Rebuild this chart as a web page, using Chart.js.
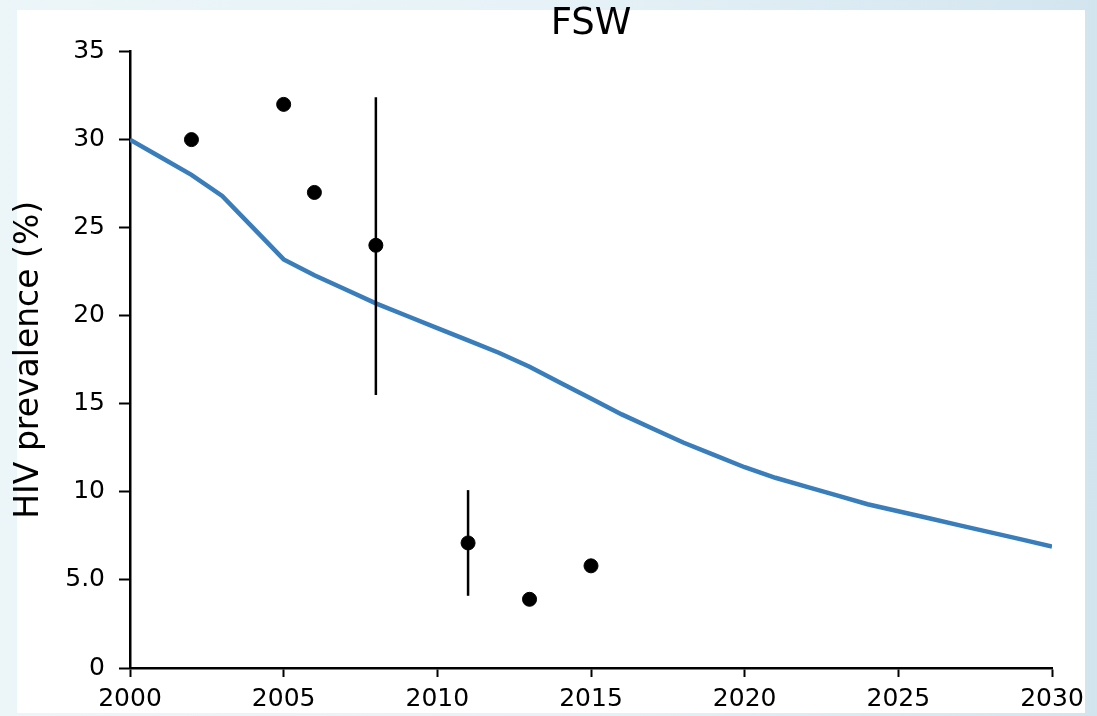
<!DOCTYPE html>
<html>
<head>
<meta charset="utf-8">
<script src="https://cdn.jsdelivr.net/npm/chart.js@4/dist/chart.umd.min.js"></script>
<style>
  html, body { margin: 0; padding: 0; }
  body {
    width: 1097px; height: 716px; overflow: hidden; position: relative;
    background: linear-gradient(90deg, #ecf6f9 0%, #e6f2f7 50%, #d2e5ef 100%);
  }
  #panel { position: absolute; left: 17px; top: 10px; width: 1068px; height: 703px; background: #fff; }
  #chart { position: absolute; left: 0; top: 0; }
</style>
</head>
<body>
<div id="panel"></div>
<canvas id="chart" width="1097" height="716"></canvas>
<script>
// model curve
const modelYears = [2000, 2001, 2002, 2003, 2004, 2005, 2006, 2007, 2008, 2009, 2010,
  2011, 2012, 2013, 2014, 2015, 2016, 2017, 2018, 2019, 2020,
  2021, 2022, 2023, 2024, 2025, 2026, 2027, 2028, 2029, 2030];
const modelValues = [30.0, 29.0, 28.0, 26.8, 25.0, 23.2, 22.3, 21.5, 20.7, 20.0, 19.3,
  18.6, 17.9, 17.1, 16.2, 15.3, 14.4, 13.6, 12.8, 12.1, 11.4,
  10.8, 10.3, 9.8, 9.3, 8.9, 8.5, 8.1, 7.7, 7.3, 6.9];

// survey data points
const obsYears = [2002, 2005, 2006, 2008, 2011, 2013, 2015];
const obsValues = [30.0, 32.0, 27.0, 24.0, 7.1, 3.9, 5.8];
const obsLow = [null, null, null, 15.5, 4.1, null, null];
const obsHigh = [null, null, null, 32.4, 10.1, null, null];

const yTickLabels = ["0", "5.0", "10", "15", "20", "25", "30", "35"];
const xTickLabels = ["2000", "2005", "2010", "2015", "2020", "2025", "2030"];

const errorBars = {
  id: "errorBars",
  afterDatasetsDraw(chart) {
    const { ctx, scales: { x, y } } = chart;
    ctx.save();
    ctx.strokeStyle = "#000";
    ctx.lineWidth = 2.5;
    obsYears.forEach((yr, i) => {
      if (obsLow[i] == null) return;
      const px = x.getPixelForValue(yr);
      ctx.beginPath();
      ctx.moveTo(px, y.getPixelForValue(obsLow[i]));
      ctx.lineTo(px, y.getPixelForValue(obsHigh[i]));
      ctx.stroke();
    });
    ctx.restore();
  }
};

const font = "'DejaVu Sans', sans-serif";

new Chart(document.getElementById("chart"), {
  type: "line",
  data: {
    datasets: [
      {
        type: "scatter",
        data: obsYears.map((yr, i) => ({ x: yr, y: obsValues[i] })),
        backgroundColor: "#000",
        borderColor: "#000",
        pointRadius: 7,
        order: 0
      },
      {
        data: modelYears.map((yr, i) => ({ x: yr, y: modelValues[i] })),
        borderColor: "#3a7dbb",
        borderWidth: 4.5,
        pointRadius: 0,
        tension: 0,
        fill: false,
        order: 1
      }
    ]
  },
  options: {
    responsive: false,
    animation: false,
    layout: { padding: { top: 3, right: 45, left: 0, bottom: 0 } },
    plugins: {
      legend: { display: false },
      tooltip: { enabled: false },
      title: {
        display: true,
        fullSize: false,
        text: "FSW",
        color: "#000",
        font: { family: font, size: 37, weight: "normal", lineHeight: 1.15 },
        padding: { top: 0, bottom: 6 }
      }
    },
    scales: {
      x: {
        type: "linear",
        min: 2000,
        max: 2030,
        afterFit: (s) => { s.height = 48; },
        ticks: {
          stepSize: 5,
          color: "#000",
          padding: 7,
          maxRotation: 0,
          font: { family: font, size: 25 },
          callback: (v) => xTickLabels[(v - 2000) / 5]
        },
        grid: { drawOnChartArea: false, tickLength: 9, tickWidth: 2, tickColor: "#000" },
        border: { color: "#000", width: 2.5 }
      },
      y: {
        min: 0,
        max: 35,
        afterFit: (s) => { s.width = 130; },
        ticks: {
          stepSize: 5,
          color: "#000",
          padding: 14,
          font: { family: font, size: 25 },
          callback: (v) => yTickLabels[v / 5]
        },
        grid: { drawOnChartArea: false, tickLength: 11, tickWidth: 2, tickColor: "#000" },
        border: { color: "#000", width: 2.5 },
        title: {
          display: true,
          text: "HIV prevalence (%)",
          color: "#000",
          font: { family: font, size: 33 },
          padding: { top: 10, bottom: 0 }
        }
      }
    }
  },
  plugins: [errorBars]
});
</script>
</body>
</html>
